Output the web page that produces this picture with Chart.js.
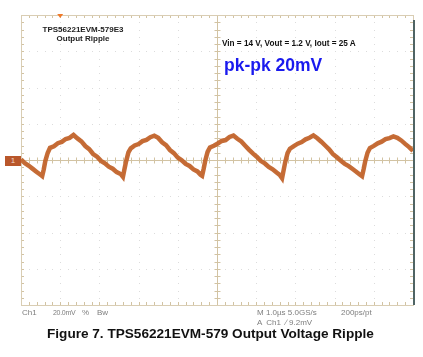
<!DOCTYPE html>
<html>
<head>
<meta charset="utf-8">
<script src="https://cdn.jsdelivr.net/npm/chart.js@4"></script>
<style>
  html, body { margin: 0; padding: 0; background: #fff; }
  #wrap { position: relative; width: 423px; height: 357px; overflow: hidden; font-family: "Liberation Sans", Arial, sans-serif; }
  #scope { position: absolute; left: 0; top: 0; }
  .t { position: absolute; white-space: nowrap; line-height: 1; }
  .board { font-weight: bold; font-size: 8px; color: #222; transform: translateX(-50%); }
  .cond { left: 222px; top: 40px; font-weight: bold; font-size: 8.2px; color: #111; }
  .pk { left: 224px; top: 57px; font-weight: bold; font-size: 17.5px; color: #1a1aee; }
  .lbl { font-size: 8px; color: #7e7e7e; }
  .caption { left: 47px; top: 327px; font-weight: bold; font-size: 13.6px; color: #111; }
  .gnd { position: absolute; left: 5px; top: 156px; width: 16px; height: 10px; background: #b9572b; color: #f3d9c8; font-size: 8px; line-height: 10px; text-align: center; }
</style>
</head>
<body>
<div id="wrap">
  <canvas id="scope" width="423" height="357"></canvas>
  <div class="t board" style="left:83px; top:26px;">TPS56221EVM-579E3</div>
  <div class="t board" style="left:83px; top:35px;">Output Ripple</div>
  <div class="t cond">Vin = 14 V, Vout = 1.2 V, Iout = 25 A</div>
  <div class="t pk">pk-pk 20mV</div>
  <div class="gnd">1</div>
  <div class="t lbl" style="left:22px; top:309px;">Ch1</div>
  <div class="t lbl" style="left:53px; top:309px; font-size:7px; letter-spacing:-0.3px;">20.0mV</div>
  <div class="t lbl" style="left:82px; top:309px;">%</div>
  <div class="t lbl" style="left:97px; top:309px;">Bw</div>
  <div class="t lbl" style="left:257px; top:309px;">M 1.0µs 5.0GS/s</div>
  <div class="t lbl" style="left:341px; top:309px;">200ps/pt</div>
  <div class="t lbl" style="left:257px; top:319px;">A &nbsp;Ch1 &nbsp;&#8725; 9.2mV</div>
  <div class="t caption">Figure 7. TPS56221EVM-579 Output Voltage Ripple</div>
</div>
<script>
// time axis: 1.0 us/div, 10 divisions
const timeMin = 0;
const timeMax = 10;
// vertical axis: 20 mV/div, 8 divisions centred on ground
const mvMin = -80;
const mvMax = 80;
const triggerTime = 1.0;

// Ch1 output ripple (us, mV)
const traceTime = [
  0, 0.1, 0.2, 0.3, 0.4, 0.48,
  0.54, 0.58, 0.62, 0.68, 0.74, 0.84, 0.94, 1.04, 1.14, 1.24, 1.34, 1.44, 1.54, 1.64, 1.74, 1.84, 1.94, 2.04, 2.14, 2.24, 2.34, 2.44, 2.54,
  2.60, 2.64, 2.68, 2.74, 2.80, 2.90, 3.00, 3.10, 3.20, 3.30, 3.40, 3.50, 3.60, 3.70, 3.80, 3.90, 4.00, 4.10, 4.20, 4.30, 4.40, 4.50, 4.58,
  4.62, 4.66, 4.70, 4.76, 4.82, 4.92, 5.02, 5.12, 5.22, 5.32, 5.42, 5.52, 5.62, 5.72, 5.82, 5.92, 6.02, 6.12, 6.22, 6.32, 6.42, 6.52, 6.60,
  6.66, 6.70, 6.74, 6.80, 6.86, 6.96, 7.06, 7.16, 7.26, 7.36, 7.46, 7.56, 7.66, 7.76, 7.86, 7.96, 8.06, 8.16, 8.26, 8.36, 8.46, 8.56, 8.64,
  8.70, 8.74, 8.78, 8.84, 8.90, 9.00, 9.10, 9.20, 9.30, 9.40, 9.50, 9.60, 9.70, 9.80, 9.90, 10.0
];
const traceMv = [
  0.3, -1.8, -3.2, -4.9, -6.6, -7.9,
  -8.9, -5.2, -0.6, 3.9, 6.7, 7.6, 9.3, 10.0, 11.6, 12.2, 13.8, 11.9, 10.3, 7.7, 6.0, 3.3, 1.8, -0.5, -1.8, -3.7, -4.8, -6.7, -7.7,
  -9.3, -5.0, -0.9, 4.2, 6.4, 8.0, 8.8, 10.4, 11.1, 12.6, 13.4, 12.2, 9.8, 8.2, 5.5, 3.8, 1.3, -0.2, -2.2, -3.3, -5.2, -6.3, -8.1,
  -8.7, -4.8, -0.4, 4.5, 6.9, 7.9, 9.1, 10.5, 11.0, 12.7, 13.5, 11.7, 10.2, 7.9, 5.6, 3.5, 1.7, -0.6, -1.9, -3.8, -5.1, -6.9, -8.2,
  -10.0, -5.6, -1.2, 3.8, 6.2, 7.7, 9.0, 9.9, 11.4, 12.3, 13.6, 12.0, 10.1, 8.0, 5.9, 3.2, 1.5, -0.4, -2.1, -3.4, -5.0, -6.6, -8.0,
  -8.9, -5.1, -0.8, 4.0, 6.6, 7.8, 9.2, 10.1, 11.5, 12.1, 13.0, 12.2, 10.8, 8.9, 7.1, 5.0
];

const tracePoints = traceTime.map((t, i) => ({ x: t, y: traceMv[i] }));

// Oscilloscope graticule: dotted grid, centre cross with minor ticks, framed border
const graticule = {
  id: "graticule",
  beforeDatasetsDraw(chart) {
    const { ctx, chartArea: a, scales } = chart;
    const x = scales.x;
    const y = scales.y;
    const cx = x.getPixelForValue((timeMin + timeMax) / 2);
    const cy = y.getPixelForValue(0);
    ctx.save();

    // faint dotted grid lines
    ctx.fillStyle = "#dcdcdc";
    for (let d = 1; d < 10; d++) {
      if (d === 5) continue;
      const px = Math.round(x.getPixelForValue(d));
      for (let m = mvMin; m <= mvMax; m += 4) {
        ctx.fillRect(px, Math.round(y.getPixelForValue(m)), 1, 1);
      }
    }
    for (let v = mvMin + 20; v < mvMax; v += 20) {
      if (v === 0) continue;
      const py = Math.round(y.getPixelForValue(v));
      for (let t = timeMin; t <= timeMax; t += 0.2) {
        ctx.fillRect(Math.round(x.getPixelForValue(t)), py, 1, 1);
      }
    }

    // centre cross
    ctx.strokeStyle = "#d2c3a3";
    ctx.lineWidth = 1;
    ctx.beginPath();
    ctx.moveTo(a.left, Math.round(cy) + 0.5);
    ctx.lineTo(a.right, Math.round(cy) + 0.5);
    ctx.moveTo(Math.round(cx) + 0.5, a.top);
    ctx.lineTo(Math.round(cx) + 0.5, a.bottom);
    ctx.stroke();

    // minor ticks on centre cross and border
    ctx.beginPath();
    for (let t = timeMin; t <= timeMax + 0.001; t += 0.2) {
      const px = Math.round(x.getPixelForValue(t)) + 0.5;
      ctx.moveTo(px, cy - 2.5);
      ctx.lineTo(px, cy + 3.5);
      ctx.moveTo(px, a.top);
      ctx.lineTo(px, a.top + 3);
      ctx.moveTo(px, a.bottom);
      ctx.lineTo(px, a.bottom - 3);
    }
    for (let m = mvMin; m <= mvMax; m += 4) {
      const py = Math.round(y.getPixelForValue(m)) + 0.5;
      ctx.moveTo(cx - 2.5, py);
      ctx.lineTo(cx + 3.5, py);
      ctx.moveTo(a.left, py);
      ctx.lineTo(a.left + 3, py);
      ctx.moveTo(a.right, py);
      ctx.lineTo(a.right - 3, py);
    }
    ctx.stroke();

    // border frame
    ctx.strokeStyle = "#d9cdb3";
    ctx.strokeRect(a.left + 0.5, a.top + 0.5, a.right - a.left, a.bottom - a.top);

    // dark right edge of the scope display
    ctx.strokeStyle = "#4f6464";
    ctx.lineWidth = 2;
    ctx.beginPath();
    ctx.moveTo(a.right + 1, a.top + 5);
    ctx.lineTo(a.right + 1, a.bottom);
    ctx.stroke();

    // trigger position marker
    const tx = x.getPixelForValue(triggerTime);
    ctx.fillStyle = "#f07a2a";
    ctx.beginPath();
    ctx.moveTo(tx - 3, a.top - 1);
    ctx.lineTo(tx + 3, a.top - 1);
    ctx.lineTo(tx, a.top + 3);
    ctx.closePath();
    ctx.fill();
    ctx.restore();
  }
};

new Chart(document.getElementById("scope"), {
  type: "line",
  data: {
    datasets: [
      {
        label: "Ch1",
        data: tracePoints,
        borderColor: "rgba(194, 100, 44, 0.95)",
        borderWidth: 4.5,
        pointRadius: 0,
        tension: 0,
      },
      {
        label: "Ch1 highlight",
        data: tracePoints,
        borderColor: "rgba(232, 160, 72, 0.75)",
        borderWidth: 1,
        pointRadius: 0,
        tension: 0,
      },
    ],
  },
  options: {
    responsive: false,
    animation: false,
    devicePixelRatio: 1,
    layout: { padding: { left: 21, top: 15, right: 10, bottom: 52 } },
    scales: {
      x: { type: "linear", min: timeMin, max: timeMax, display: false },
      y: { type: "linear", min: mvMin, max: mvMax, display: false },
    },
    plugins: {
      legend: { display: false },
      tooltip: { enabled: false },
    },
  },
  plugins: [graticule],
});
</script>
</body>
</html>
